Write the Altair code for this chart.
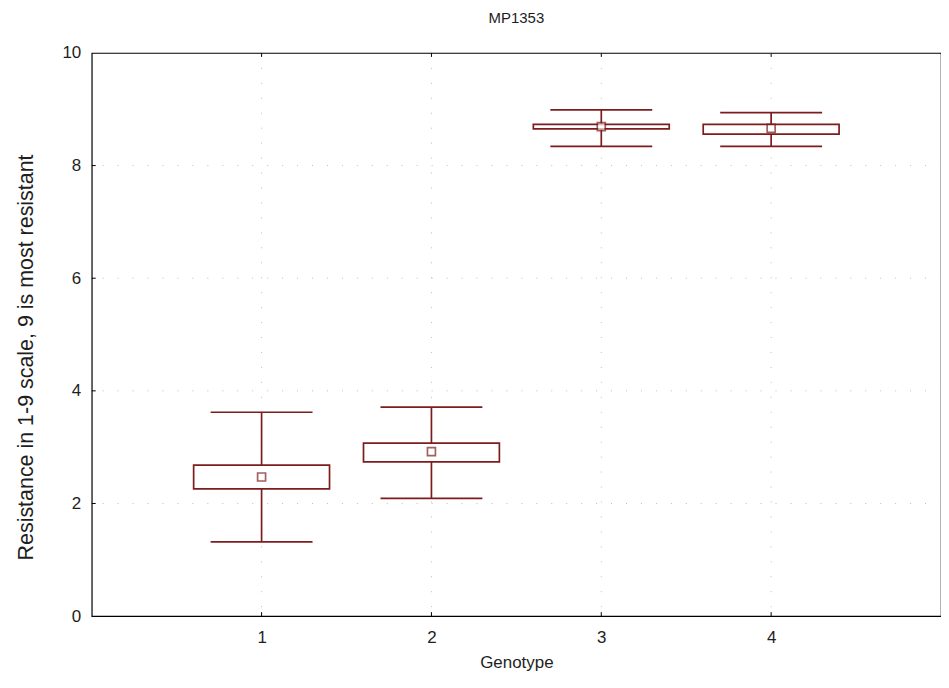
import altair as alt
import pandas as pd

# ---- data ----
genotypes   = [1, 2, 3, 4]
means       = [2.47, 2.92, 8.69, 8.66]
box_low     = [2.26, 2.74, 8.65, 8.56]
box_high    = [2.68, 3.07, 8.73, 8.73]
whisk_low   = [1.32, 2.09, 8.34, 8.34]
whisk_high  = [3.62, 3.71, 8.99, 8.94]

x_ticks = [1, 2, 3, 4]
y_ticks = [0, 2, 4, 6, 8, 10]
grid_y  = [2, 4, 6, 8]

COLOR = "#7d1c1c"
FONT = "Liberation Sans"
TXT = "#1e1e1e"
BOX_HALF = 0.4
CAP_HALF = 0.3

df = pd.DataFrame({
    "g": genotypes, "mean": means, "blo": box_low, "bhi": box_high,
    "wlo": whisk_low, "whi": whisk_high,
})
df["bx1"] = df["g"] - BOX_HALF
df["bx2"] = df["g"] + BOX_HALF
df["cx1"] = df["g"] - CAP_HALF
df["cx2"] = df["g"] + CAP_HALF

xs = alt.Scale(domain=[0, 5], nice=False, zero=False)
ys = alt.Scale(domain=[0, 10], nice=False)

x_axis = alt.Axis(values=x_ticks, format="d", grid=False, ticks=False, domain=False,
                  labelFontSize=17, labelFont=FONT, labelColor=TXT, labelPadding=13,
                  title="Genotype", titleFont=FONT, titleFontSize=17, titleFontWeight="normal",
                  titleColor=TXT, titlePadding=10)
y_axis = alt.Axis(values=y_ticks, format="d", grid=False, ticks=False, domain=False,
                  labelFontSize=17, labelFont=FONT, labelColor=TXT, labelPadding=11,
                  title="Resistance in 1-9 scale, 9 is most resistant", titleFont=FONT,
                  titleFontSize=21.5, titleFontWeight="normal", titleColor=TXT,
                  titleX=-59, titleY=305, titleAngle=270, titleAlign="center",
                  titleBaseline="alphabetic")

base = alt.Chart(df)

# gridlines (faint dotted)
gx = alt.Chart(pd.DataFrame({"v": x_ticks})).mark_rule(
    color="#bdbdbd", strokeDash=[1, 14], strokeWidth=1
).encode(x=alt.X("v:Q", scale=xs, axis=x_axis))
gy = alt.Chart(pd.DataFrame({"v": grid_y})).mark_rule(
    color="#bdbdbd", strokeDash=[1, 14], strokeWidth=1
).encode(y=alt.Y("v:Q", scale=ys, axis=y_axis))

# inward tick marks
tx = alt.Chart(pd.DataFrame({"v": x_ticks})).mark_rule(color="black", strokeWidth=1).encode(
    x=alt.X("v:Q", scale=xs), y=alt.value(565), y2=alt.value(561))
ty = alt.Chart(pd.DataFrame({"v": y_ticks[1:-1]})).mark_rule(color="black", strokeWidth=1).encode(
    y=alt.Y("v:Q", scale=ys), x=alt.value(0), x2=alt.value(4))
ttop = alt.Chart(pd.DataFrame({"v": x_ticks})).mark_rule(color="black", strokeWidth=1).encode(
    x=alt.X("v:Q", scale=xs), y=alt.value(0), y2=alt.value(4))

whisker = base.mark_rule(color=COLOR, strokeWidth=1.7).encode(
    x=alt.X("g:Q", scale=xs), y=alt.Y("wlo:Q", scale=ys), y2="whi:Q")
cap_hi = base.mark_rule(color=COLOR, strokeWidth=1.7).encode(
    x=alt.X("cx1:Q", scale=xs), x2="cx2:Q", y=alt.Y("whi:Q", scale=ys))
cap_lo = base.mark_rule(color=COLOR, strokeWidth=1.7).encode(
    x=alt.X("cx1:Q", scale=xs), x2="cx2:Q", y=alt.Y("wlo:Q", scale=ys))
box = base.mark_rect(fill="white", stroke=COLOR, strokeWidth=1.7).encode(
    x=alt.X("bx1:Q", scale=xs), x2="bx2:Q", y=alt.Y("blo:Q", scale=ys), y2="bhi:Q")
mean_pt = base.mark_square(size=64, filled=True, fill="white", stroke=COLOR, strokeWidth=1.7).encode(
    x=alt.X("g:Q", scale=xs), y=alt.Y("mean:Q", scale=ys))

chart = alt.layer(gx, gy, tx, ty, ttop, whisker, cap_hi, cap_lo, box, mean_pt).properties(
    width=852, height=565,
    title=alt.TitleParams("MP1353", font=FONT, fontSize=15, fontWeight="normal",
                          color=TXT, offset=18, anchor="middle"),
    autosize=alt.AutoSizeParams(type="none"),
    padding={"left": 84, "top": 44, "right": 0, "bottom": 60},
).configure(background="white").configure_view(stroke="black", strokeWidth=1.2)

chart.save("out.html", embed_options={"renderer": "svg", "actions": False})
